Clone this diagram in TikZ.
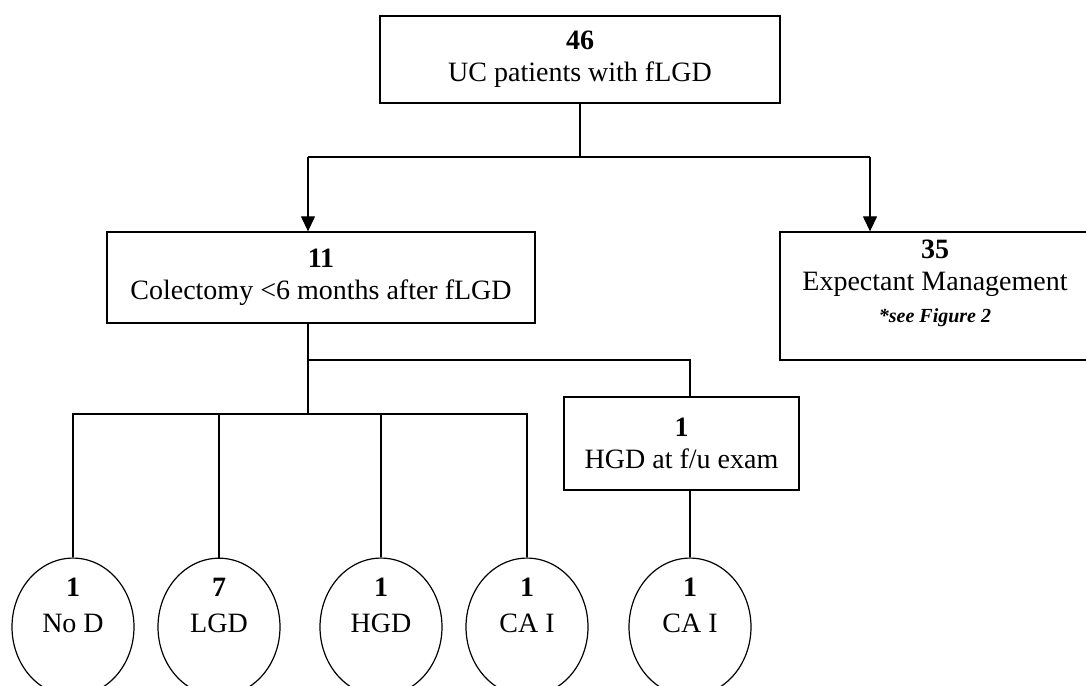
\documentclass[tikz,border=0pt]{standalone}
\usepackage{fontspec}
\setmainfont{Liberation Serif}
\usepackage{tikz}
\usetikzlibrary{shapes.geometric,arrows.meta,positioning}

\begin{document}
\begin{tikzpicture}[x=1pt, y=-1pt]
    \tikzstyle{box} = [rectangle, draw, line width=1.3pt, inner sep=0pt, align=center, font=\fontsize{28}{32}\selectfont]
    \tikzstyle{result} = [ellipse, draw, line width=1.2pt, inner sep=0pt, minimum width=122pt, minimum height=132pt, align=center, font=\fontsize{28}{36}\selectfont]
    \tikzstyle{link} = [line width=1.2pt]
    \tikzstyle{arrow} = [link, -{Triangle[length=15pt,width=14pt]}]

    \useasboundingbox (0,0) rectangle (1086,685);

    \node (all) [box, minimum width=400pt, minimum height=87pt] at (580,59.5) {\textbf{46}\\UC patients with fLGD};
    \node (colect) [box, minimum width=428pt, minimum height=91pt] at (321,277.5) {\textbf{11}\\Colectomy <6 months after fLGD};
    \node (expect) [box, minimum width=310pt, minimum height=128pt] at (935,296) {\textbf{35}\\Expectant Management\\{\fontsize{20}{25}\selectfont\bfseries\itshape *see Figure 2}\rule[-30pt]{0pt}{0pt}};
    \node (fu) [box, minimum width=235pt, minimum height=93pt] at (681.5,443.5) {\textbf{1}\\HGD at f/u exam};

    \node (nod) [result] at (73,627) {\textbf{1}\\No D\rule[-43pt]{0pt}{0pt}};
    \node (lgd) [result] at (219,627) {\textbf{7}\\LGD\rule[-43pt]{0pt}{0pt}};
    \node (hgd) [result] at (381,627) {\textbf{1}\\HGD\rule[-43pt]{0pt}{0pt}};
    \node (cai) [result] at (527,627) {\textbf{1}\\CA I\rule[-43pt]{0pt}{0pt}};
    \node (caii) [result] at (690,627) {\textbf{1}\\CA I\rule[-43pt]{0pt}{0pt}};

    % split points
    \coordinate (top) at (580,157);
    \coordinate (left) at (308,157);
    \coordinate (right) at (870,157);
    \coordinate (mid) at (308,360);
    \coordinate (low) at (308,414);

    \draw [link] (all) -- (top);
    \draw [link] (left) -- (right);
    \draw [arrow] (left) -- (left |- colect.north);
    \draw [arrow] (right) -- (right |- expect.north);

    \draw [link] (left |- colect.south) -- (low);
    \draw [link] (mid) -| (caii |- fu.north);
    \draw [link] (caii |- fu.south) -- (caii);
    \foreach \r in {nod,lgd,hgd,cai}
        \draw [link] (\r.north) |- (low);
\end{tikzpicture}
\end{document}
